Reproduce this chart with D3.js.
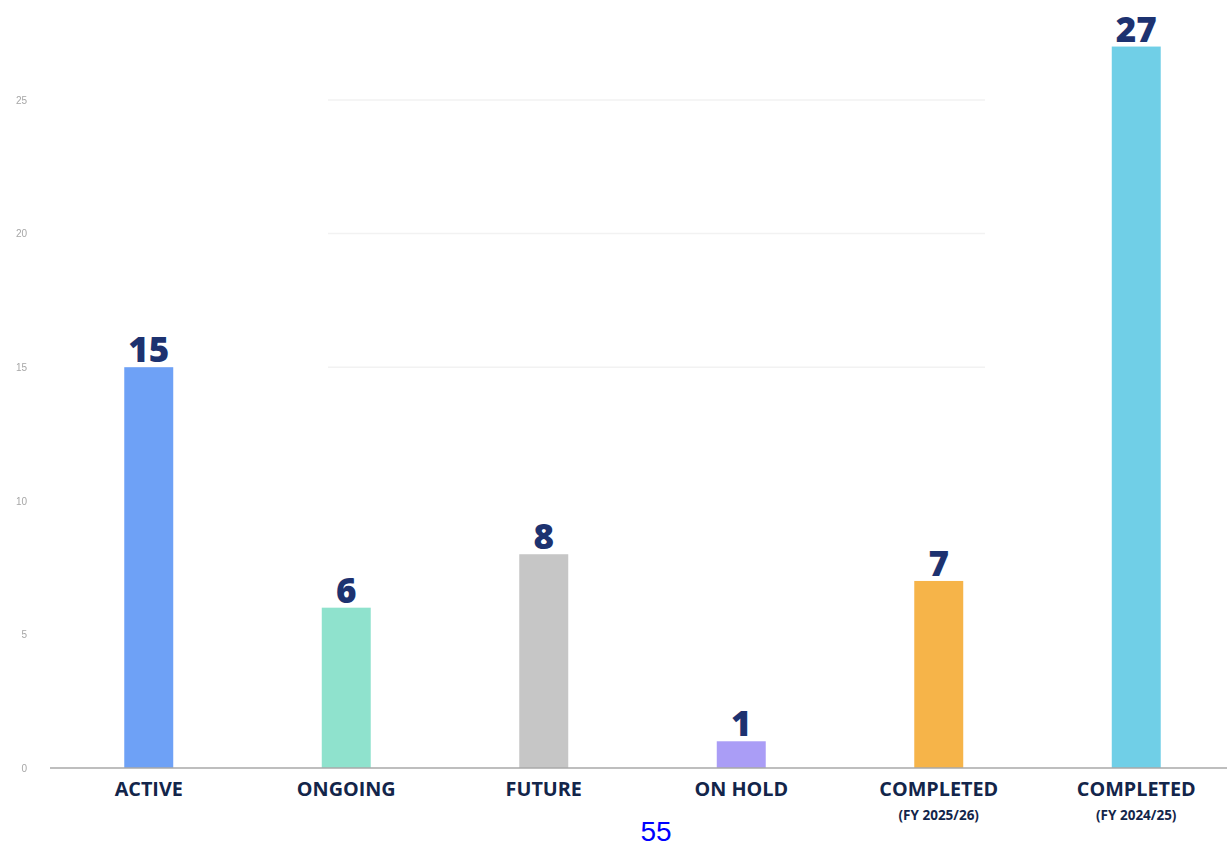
<!DOCTYPE html>
<html>
<head>
<meta charset="utf-8">
<script src="https://cdn.jsdelivr.net/npm/d3@7"></script>
<style>
  html, body { margin: 0; padding: 0; background: #fff; }
  svg { display: block; }
</style>
</head>
<body>
<svg id="chart" width="1227" height="846"></svg>
<script>
// Project counts by status
const categories = ["ACTIVE", "ONGOING", "FUTURE", "ON HOLD", "COMPLETED", "COMPLETED "];
const subLabels = ["", "", "", "", "(FY 2025/26)", "(FY 2024/25)"];
const values = [15, 6, 8, 1, 7, 27];
const barColors = ["#6ea1f6", "#8fe2cd", "#c6c6c6", "#aa9df6", "#f6b449", "#70cfe7"];
const yTicks = [0, 5, 10, 15, 20, 25];
const gridTicks = [15, 20, 25];
const pageNumber = "55";

const svg = d3.select("#chart");

const x = d3.scaleBand()
  .domain(categories)
  .range([50, 1235])
  .paddingInner(0.752)
  .paddingOuter(0.376);

const y = d3.scaleLinear()
  .domain([0, 25])
  .range([768, 100]);

const defs = svg.append("defs");
defs.append("filter").attr("id", "soft")
  .append("feGaussianBlur").attr("stdDeviation", 0.6);

// faint horizontal gridlines
svg.append("g")
  .selectAll("line")
  .data(gridTicks)
  .join("line")
  .attr("x1", 328).attr("x2", 985)
  .attr("y1", d => y(d)).attr("y2", d => y(d))
  .attr("stroke", "#f2f2f2")
  .attr("stroke-width", 1.5);

// y tick labels
const yAxis = d3.axisLeft(y).tickValues(yTicks).tickSize(0).tickPadding(0);
const yg = svg.append("g")
  .attr("transform", "translate(27,0)")
  .call(yAxis);
yg.select(".domain").remove();
yg.selectAll("text")
  .attr("font-family", "Liberation Sans, Arial, sans-serif")
  .attr("font-size", 10)
  .attr("fill", "#a6a6a6")
  .attr("filter", "url(#soft)");

// bars
svg.append("g")
  .selectAll("rect")
  .data(values)
  .join("rect")
  .attr("x", (d, i) => x(categories[i]))
  .attr("width", x.bandwidth())
  .attr("y", d => y(d))
  .attr("height", d => y(0) - y(d))
  .attr("fill", (d, i) => barColors[i])
  .attr("filter", "url(#soft)");

// baseline
svg.append("line")
  .attr("x1", 50).attr("x2", 1227)
  .attr("y1", y(0)).attr("y2", y(0))
  .attr("stroke", "#a8a8a8")
  .attr("stroke-width", 1.5);

// value labels
svg.append("g")
  .selectAll("text")
  .data(values)
  .join("text")
  .attr("x", (d, i) => x(categories[i]) + x.bandwidth() / 2)
  .attr("y", d => y(d) - 5)
  .attr("text-anchor", "middle")
  .attr("font-family", "Open Sans, sans-serif")
  .attr("font-weight", 800)
  .attr("font-size", 35)
  .attr("fill", "#1d3270")
  .text(d => d);

// category labels
const xAxis = d3.axisBottom(x).tickSize(0).tickPadding(0);
const xg = svg.append("g")
  .attr("transform", `translate(0,${y(0)})`)
  .call(xAxis);
xg.select(".domain").remove();
xg.selectAll("text")
  .attr("y", 28)
  .attr("dy", 0)
  .attr("font-family", "Open Sans, sans-serif")
  .attr("font-weight", 700)
  .attr("font-size", 19.8)
  .attr("fill", "#13254a")
  .text(d => d.trim());

svg.append("g")
  .selectAll("text")
  .data(subLabels)
  .join("text")
  .attr("x", (d, i) => x(categories[i]) + x.bandwidth() / 2)
  .attr("y", y(0) + 52)
  .attr("text-anchor", "middle")
  .attr("font-family", "Open Sans, sans-serif")
  .attr("font-weight", 700)
  .attr("font-size", 13.5)
  .attr("fill", "#13254a")
  .text(d => d);

// page number
svg.append("text")
  .attr("x", 656)
  .attr("y", 841)
  .attr("text-anchor", "middle")
  .attr("font-family", "Liberation Sans, Arial, sans-serif")
  .attr("font-size", 28)
  .attr("fill", "#0000ff")
  .text(pageNumber);
</script>
</body>
</html>
